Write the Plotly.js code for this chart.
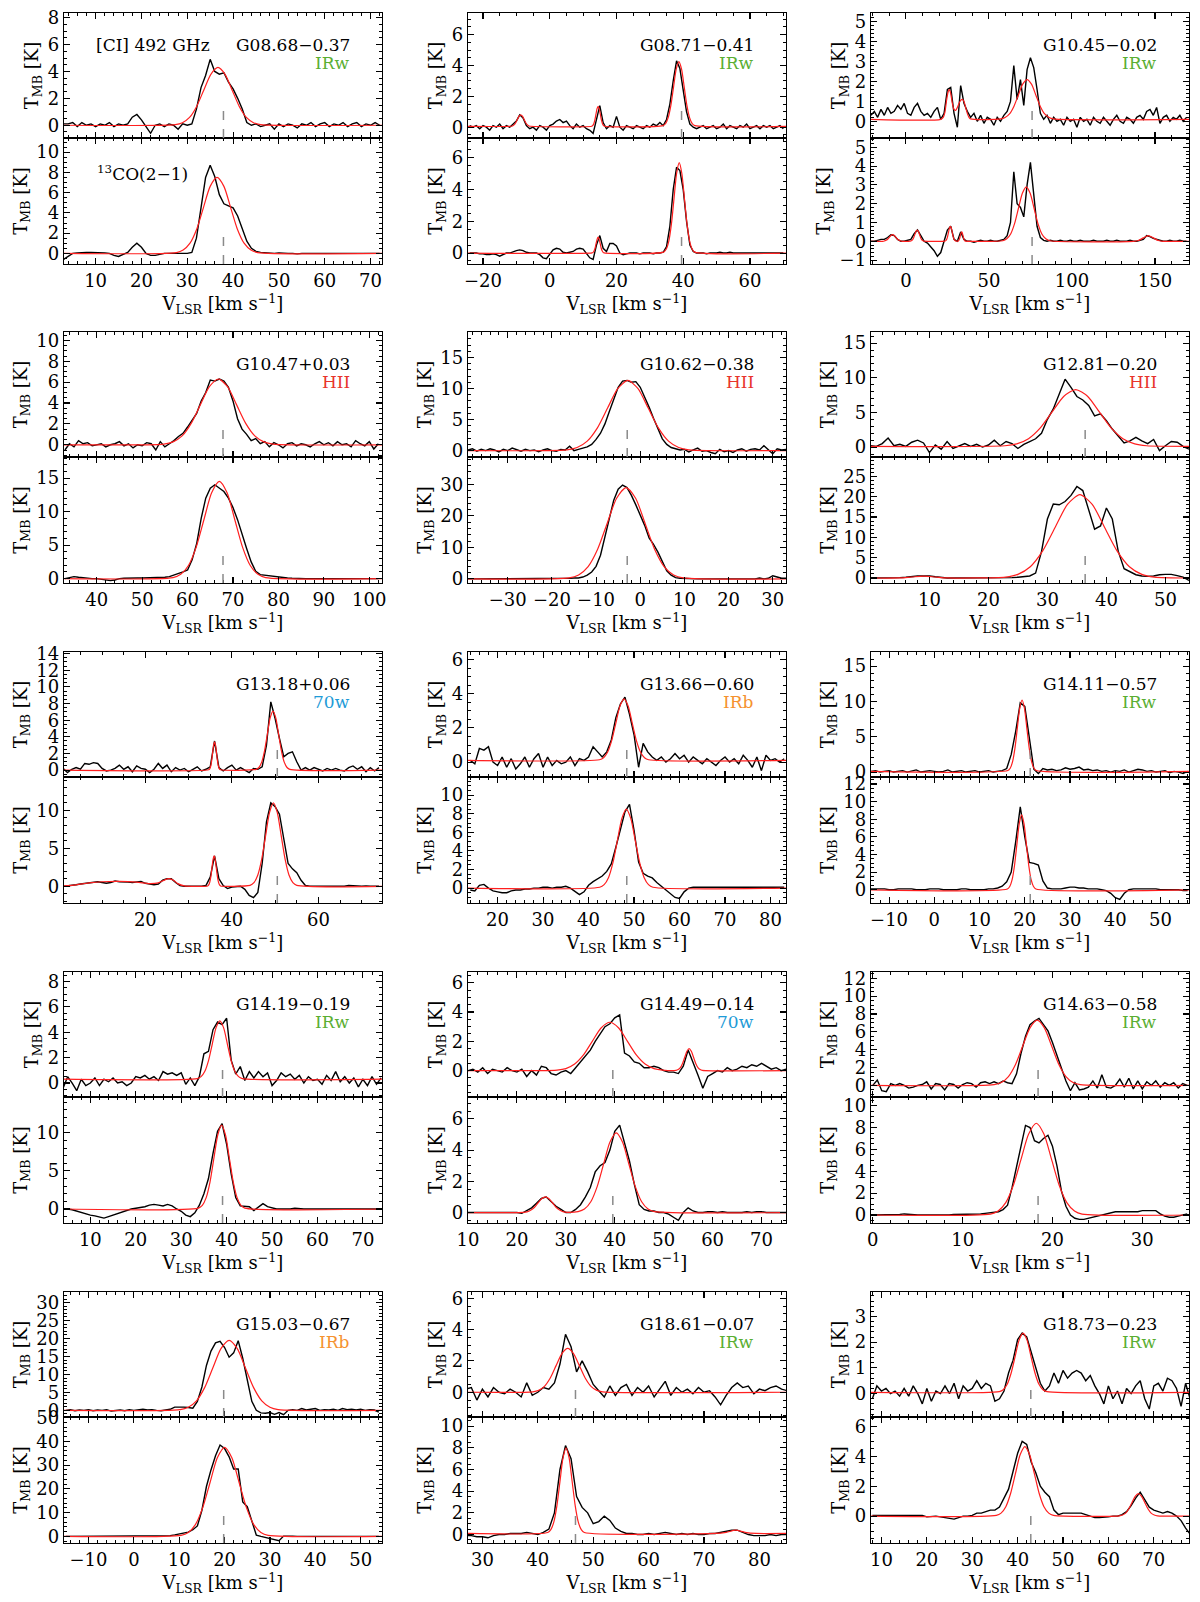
<!DOCTYPE html>
<html>
<head>
<meta charset="utf-8">
<script src="https://cdn.plot.ly/plotly-3.0.1.min.js"></script>
<style>
  body { margin: 0; background: #fff; }
  #chart { width: 1200px; height: 1602px; }
</style>
</head>
<body>
<div id="chart"></div>
<script>
// ---- sources ----
const sources = ['G08.68−0.37','G08.71−0.41','G10.45−0.02','G10.47+0.03','G10.62−0.38','G12.81−0.20',
  'G13.18+0.06','G13.66−0.60','G14.11−0.57','G14.19−0.19','G14.49−0.14','G14.63−0.58',
  'G15.03−0.67','G18.61−0.07','G18.73−0.23'];
const classes = ['IRw','IRw','IRw','HII','HII','HII','70w','IRb','IRw','IRw','70w','IRw','IRb','IRw','IRw'];
const vsys = [37.9, 39.5, 76.0, 67.8, -2.95, 36.4, 50.5, 48.4, 21.2, 39.1, 39.6, 18.4, 19.8, 46.8, 42.9];

// channel grid of each source: [first velocity, channel width] (km/s)
const grids = [[3,1],[-24,1],[-21,2],[33,1],[-39,1],[0,1],[1,1],[14,1],[-14,1],[4,1],[10,1],[0,0.5],[-15,1],[27,1],[8,1]];

// ---- [CI] 492 GHz spectra (K) ----
const ci_G0868 = [0.1,0.1,0.2,-0.1,0.2,0.0,0.1,-0.1,0.1,0.0, 0.2,-0.1,0.1,0.0,0.1,0.6,0.8,0.4,-0.1,-0.6,
  0.0,0.1,-0.1,0.1,0.0,-0.3,0.1,0.0,0.1,1.2, 2.8,3.7,4.9,4.0,3.8,3.9,3.2,2.7,2.0,1.2,
  0.2,0.0,0.1,-0.1,0.0,0.1,-0.3,0.1,-0.1,0.1, 0.0,-0.2,0.1,0.0,0.2,-0.1,0.1,0.2,-0.1,0.1,
  0.0,0.2,-0.1,0.1,0.2,-0.1,0.1,0.0,0.2,0.0];
const ci_G0871 = [0.1,0.0,0.1,-0.1,0.1,0.0,-0.2,0.1,0.0,0.2, -0.1,0.1,0.0,0.2,0.4,0.8,0.6,0.1,-0.1,0.0,
  -0.2,0.1,0.0,-0.2,0.1,0.2,0.4,0.5,0.3,0.4, 0.1,-0.1,0.2,0.0,0.1,-0.1,-0.2,-0.4,0.6,1.4,
  0.3,-0.1,0.1,0.0,0.7,0.0,-0.2,0.1,0.0,-0.1, 0.1,0.0,-0.1,0.1,0.0,0.2,0.1,0.3,0.1,0.5,
  1.5,3.0,4.3,3.8,2.5,1.0,0.2,0.0,-0.1,0.0, 0.1,-0.1,0.0,0.1,-0.1,0.0,0.2,-0.1,0.1,0.0,
  -0.1,0.1,0.0,0.2,-0.1,0.0,0.1,-0.1,0.1,0.0, 0.1,-0.1,0.0,0.1,-0.1];
const ci_G1045 = [0.3,0.5,0.2,0.6,0.3,0.7,0.4,0.5,0.8,0.6, 0.9,0.4,0.3,0.7,0.9,0.5,0.3,0.4,0.2,0.5,
  0.7,0.1,0.4,1.6,1.7,0.4,-0.3,1.8,0.9,0.5, 0.2,0.4,0.0,0.3,-0.1,0.2,0.1,-0.2,0.2,0.0,
  0.3,0.5,1.0,2.8,1.1,2.1,0.8,2.6,3.2,2.7, 1.6,0.4,0.1,0.3,-0.1,0.2,0.0,0.1,-0.2,0.2,
  0.0,0.1,-0.3,0.2,0.0,0.1,-0.2,0.2,0.0,-0.1, 0.2,0.0,-0.2,0.1,0.3,0.0,-0.1,0.2,0.1,-0.1,
  0.2,0.3,0.1,0.5,0.6,0.3,0.7,-0.1,0.2,0.3, 0.0,0.2,0.1,0.3,0.0,0.2];
const ci_G1047 = [-0.5,0.1,-0.2,0.4,0.1,0.2,-0.1,0.0,0.1,-0.2, 0.0,0.1,0.3,-0.1,0.1,-0.3,0.0,-0.1,0.2,0.1,
  -0.5,0.3,-0.2,0.1,0.4,0.8,1.1,1.7,2.3,3.0, 4.2,5.0,6.2,6.1,6.3,6.1,5.5,4.2,2.5,1.5,
  1.0,0.4,0.6,0.1,0.3,-0.2,0.2,0.0,-0.3,0.1, 0.2,-0.1,0.1,0.0,-0.2,0.1,0.3,0.0,0.2,-0.1,
  0.3,0.0,0.1,-0.2,0.4,0.1,-0.1,0.3,-0.4,0.1];
const ci_G1062 = [0.1,0.3,-0.1,0.2,0.0,0.3,0.1,-0.2,0.2,0.0, 0.4,0.1,-0.1,0.2,0.0,0.1,-0.2,0.1,0.3,0.0,
  -0.1,0.2,0.1,0.7,0.0,0.2,0.4,0.6,1.0,1.8, 2.8,4.3,6.3,8.4,10.2,11.2,11.3,11.0,11.1,10.2,
  8.7,7.0,5.2,3.4,1.9,1.0,0.5,0.3,0.1,0.2, -0.2,0.1,0.4,-0.1,0.0,-0.3,-0.5,0.2,-0.2,0.0,
  -0.3,0.1,0.3,-0.1,0.2,0.3,0.1,0.8,0.2,-0.5, 0.3,0.1,0.2];
const ci_G1281 = [0.2,0.1,0.5,1.3,0.2,0.4,0.1,0.7,1.0,0.6, -0.8,0.3,-0.3,0.8,-0.2,0.2,0.5,0.1,0.4,0.0,
  0.3,1.0,0.2,0.8,0.5,-0.2,0.4,0.8,1.2,2.0, 4.0,5.5,7.8,9.8,8.6,7.3,6.8,6.0,4.5,4.8,
  3.8,2.6,1.6,0.6,0.9,1.4,0.9,0.5,1.1,-0.5, 0.2,0.8,0.7,0.1,-0.3];
const ci_G1318 = [0.2,-0.3,0.1,0.3,0.1,0.8,0.7,0.9,0.8,0.2, -0.1,0.0,0.2,0.6,0.1,0.4,-0.2,0.5,0.2,0.1,
  -0.3,0.1,0.8,0.2,0.6,-0.2,0.3,0.0,0.2,-0.2, 0.1,0.4,-0.1,0.1,0.4,3.5,0.3,-0.1,0.3,0.6,
  0.0,0.3,0.0,-0.3,0.2,0.1,0.4,3.0,8.2,6.2, 3.8,1.6,2.0,2.2,1.0,0.0,0.3,0.0,0.3,0.1,
  -0.1,0.2,0.0,0.2,0.0,-0.1,0.3,0.5,0.1,0.4, -0.2,0.3,-0.1,0.3];
const ci_G1366 = [0.1,-0.1,0.8,0.7,0.9,0.0,-0.2,0.3,-0.3,0.2, -0.4,-0.1,0.3,-0.3,0.2,0.5,-0.3,0.3,-0.2,0.1,
  -0.1,0.0,0.3,-0.2,0.2,0.1,0.3,0.9,0.6,0.3, 0.6,1.3,2.6,3.4,3.8,2.8,1.6,-0.3,1.1,0.6,
  0.3,0.1,0.3,0.0,0.2,0.5,0.2,0.4,0.0,0.3, 0.1,-0.1,0.2,0.0,-0.2,0.1,0.3,0.0,0.2,-0.1,
  0.4,0.1,-0.3,0.3,-0.5,0.4,0.1,0.2,0.0,0.2];
const ci_G1411 = [0.1,0.2,0.0,0.1,0.2,0.0,0.1,0.2,0.0,0.1, 0.3,0.0,0.1,0.2,0.1,0.0,0.1,0.3,0.0,0.1,
  0.2,0.0,0.1,0.2,0.0,0.1,0.2,0.0,0.1,0.2, 0.5,2.5,5.8,9.8,9.3,5.0,0.4,-0.2,0.5,0.3,
  0.4,0.2,0.3,0.6,0.4,0.5,0.7,0.3,0.4,0.2, 0.3,0.1,0.2,0.0,0.2,0.1,0.3,0.0,0.2,0.4,
  0.3,0.1,0.2,0.0,0.1,0.2,-0.1,0.1,0.0,-0.2, 0.1];
const ci_G1419 = [-0.4,0.5,0.0,-0.6,0.3,-0.2,0.0,0.4,-0.2,0.3, 0.1,0.4,0.0,0.1,-0.2,0.0,0.5,0.4,0.6,0.3,
  0.5,0.2,0.9,0.7,0.8,0.6,0.8,-0.1,0.4,-0.2, 0.5,2.3,2.5,4.2,4.8,4.6,5.1,1.8,0.7,1.3,
  0.2,0.9,0.4,0.9,0.5,0.8,-0.2,0.2,0.8,0.5, 0.7,0.3,0.6,0.0,0.5,0.2,0.3,-0.1,0.6,0.2,
  0.9,0.1,0.5,0.0,0.4,-0.3,0.3,-0.2,0.5,-0.1, 0.4];
const ci_G1449 = [0.0,0.1,-0.1,0.2,-0.2,0.1,0.0,-0.1,0.2,0.0, -0.1,0.1,-0.4,0.0,-0.3,0.3,0.2,-0.2,-0.3,-0.1,
  0.0,-0.2,0.2,0.6,1.0,1.4,2.0,2.5,3.0,3.2, 3.6,3.8,1.2,1.0,0.6,0.5,0.2,0.2,0.3,0.2,
  0.0,-0.1,-0.1,-0.2,0.3,1.4,0.6,-0.3,-1.2,-0.4, -0.2,0.0,-0.1,0.2,0.0,0.1,0.3,0.2,0.4,0.3,
  0.5,0.3,0.1,0.2,0.0,0.1];
const ci_G1463 = [0.0,0.6,-0.6,-0.7,0.2,0.0,0.2,0.0,-0.3,-0.2, 0.0,0.1,0.4,-0.4,0.2,0.1,-0.5,0.2,0.1,-0.3,
  0.1,0.3,0.2,-0.2,0.3,0.4,0.2,0.4,0.2,0.5, 0.3,0.2,1.3,3.6,5.5,6.8,7.2,7.5,6.8,6.1,
  4.8,3.4,1.8,0.5,-0.6,0.3,-0.5,-0.4,-0.2,0.5, -0.3,1.2,-0.2,-0.3,0.0,0.7,-0.2,0.8,-0.4,0.5,
  -0.4,0.4,0.0,0.5,-0.2,0.3,0.0,0.3,-0.3,0.2, 0.0];
const ci_G1503 = [0.0,0.2,-0.1,0.1,0.0,0.2,-0.1,0.1,0.0,0.2, -0.2,0.0,0.1,-0.1,0.2,0.0,0.1,0.3,0.1,0.2,
  0.0,-0.1,0.1,0.3,0.9,1.0,0.9,0.8,0.6,2.5, 6.5,12.5,16.5,18.8,19.2,17.5,14.8,16.0,19.4,14.5,
  8.0,2.5,0.0,-0.7,-0.8,-0.6,-1.1,-0.6,-1.2,0.0, 0.2,0.0,0.5,0.1,0.3,0.5,0.0,0.2,0.1,0.3,
  0.0,0.5,0.2,0.3,0.1,0.3,0.0,0.2,0.1,-0.5];
const ci_G1861 = [0.2,0.3,-0.5,0.2,-0.3,0.3,0.0,-0.1,0.2,0.0, -0.3,0.6,-0.2,0.0,0.3,0.2,0.6,1.8,3.7,2.9,
  1.3,2.0,1.3,0.5,0.1,-0.3,0.4,-0.2,0.3,0.5, -0.2,0.3,0.0,0.4,-0.3,0.2,0.7,-0.2,0.3,0.0,
  0.2,-0.1,0.3,0.0,0.1,-0.3,-0.8,-0.2,0.3,0.6, 0.3,0.4,-0.1,0.2,0.1,0.3,0.4,0.2,0.1];
const ci_G1873 = [-0.2,0.3,0.1,0.2,0.0,0.1,-0.1,0.2,-0.1,0.3, 0.0,-0.4,0.2,-0.3,0.1,0.0,0.3,0.0,0.4,-0.2,
  0.3,0.1,0.2,0.5,0.2,0.4,0.3,-0.3,-0.2,0.1, 0.8,1.3,2.1,2.35,2.2,1.6,1.0,0.4,0.1,0.3,
  0.8,0.4,0.9,0.6,0.8,0.9,0.8,0.5,0.7,0.3, 0.0,-0.4,0.3,-0.2,0.1,-0.4,0.2,0.0,0.3,0.5,
  -0.2,-0.6,0.3,0.4,0.1,0.6,0.5,0.2,-0.5,0.4, -0.2];

// ---- 13CO(2-1) spectra (K) ----
const co_G0868 = [-0.6,-0.3,0.0,0.05,0.1,0.1,0.1,0.1,0.1,0.05, 0.0,-0.2,-0.3,-0.1,0.1,0.6,1.0,0.6,0.0,-0.2,
  -0.2,-0.1,0.0,0.0,0.0,0.0,0.0,0.0,0.1,1.5, 4.5,7.5,8.7,7.6,5.8,4.9,4.7,4.5,3.7,2.4,
  1.2,0.5,0.2,0.1,0.05,0.0,0.0,0.05,0.0,0.0, 0.0,-0.05,0.0,0.0,0.0,0.0,-0.05,0.0,0.0,0.0,
  0.0,0.0,0.0,0.0,0.0,0.0,0.0,0.0,0.0,0.0];
const co_G0871 = [0.0,0.0,0.0,-0.05,-0.05,-0.1,-0.1,-0.05,-0.1,-0.2, -0.1,0.0,0.0,0.1,0.15,0.2,0.15,0.05,0.0,0.0,
  0.0,-0.1,-0.3,-0.35,-0.1,0.2,0.3,0.25,0.05,0.0, 0.05,0.1,0.25,0.3,0.25,0.0,-0.3,-0.4,0.5,1.1,
  0.3,0.1,0.6,0.6,0.45,0.0,-0.1,-0.05,0.0,0.0, 0.0,-0.05,0.0,0.0,0.0,-0.05,0.0,0.0,0.05,0.4,
  1.7,4.0,5.4,5.2,4.0,2.0,0.5,0.1,0.0,0.0, 0.0,-0.05,0.0,0.0,0.0,0.05,0.0,0.0,0.05,0.0,
  0.0,0.0,0.0,0.0,0.0,0.0,0.0,0.0,0.0,0.0, 0.0,0.0,0.0,0.0,0.0];
const co_G1045 = [0.0,0.0,0.05,0.1,0.1,0.2,0.35,0.3,0.1,0.0, 0.0,0.05,0.1,0.4,0.6,0.3,0.0,-0.1,-0.3,-0.5,
  -0.8,-0.6,0.0,0.6,0.8,0.1,0.0,0.5,0.1,0.0, 0.0,-0.05,0.0,0.05,0.0,0.0,0.05,0.0,0.0,0.05,
  0.1,0.3,1.0,3.7,2.0,1.8,1.3,3.0,4.2,2.5, 0.8,0.2,0.05,0.0,0.05,0.0,0.0,0.05,0.0,0.0,
  0.05,0.0,0.0,0.05,0.0,0.0,0.0,0.05,0.0,0.0, 0.0,0.05,0.0,0.0,0.05,0.0,0.0,0.0,0.05,0.0,
  0.0,0.05,0.1,0.3,0.25,0.15,0.1,0.05,0.0,0.0, 0.05,0.0,0.0,0.05,0.0,0.0];
const co_G1047 = [0.0,0.2,0.3,0.2,0.1,0.0,0.0,0.0,-0.1,-0.2, -0.3,-0.2,0.0,0.05,0.1,0.1,0.1,0.1,0.1,0.15,
  0.2,0.2,0.2,0.3,0.5,0.8,1.0,1.3,2.8,5.2, 9.0,12.0,13.5,14.0,13.5,13.0,12.0,10.6,8.8,6.5,
  4.5,2.5,1.1,0.6,0.5,0.4,0.3,0.2,0.1,0.1, 0.05,0.0,0.0,0.0,0.0,0.0,0.0,0.0,0.0,0.0,
  0.0,0.0,0.0,0.0,0.0,0.0,0.0,0.05,0.05,0.0];
const co_G1062 = [0,0,0,0,0,0,0,0,0,0, 0,0,0,0,0,0,0,0,0,0.1,
  0.1,0.1,0.2,0.2,0.3,0.3,0.6,1.2,2.2,4.0, 7.5,13.5,19.5,25.0,28.5,29.8,29.0,26.5,23.5,20.5,
  17.0,13.0,11.0,8.5,5.5,2.6,1.2,0.4,0.2,0.1, 0.0,0.0,0.0,0.0,0.0,0.2,0.0,0.0,0.0,0.0,
  0.0,0.0,0.0,0.0,0.0,0.0,0.3,0.0,0.2,1.0, 0.6,0.2,0.2];
const co_G1281 = [0.0,0.0,0.0,0.05,0.1,0.1,0.2,0.4,0.5,0.5, 0.5,0.3,0.1,0,0,0,0,0,0,0,
  0,0,0.05,0.1,0.1,0.2,0.3,0.5,1.2,6.5, 14.5,18.2,18.0,18.8,20.3,22.5,21.5,17.0,12.0,12.8,
  17.2,14.5,6.6,2.3,1.5,0.8,0.5,0.4,0.5,0.8, 0.9,0.9,0.6,0.2,-0.6];
const co_G1318 = [0.0,0.05,0.1,0.2,0.3,0.4,0.5,0.6,0.6,0.5, 0.4,0.5,0.7,0.6,0.6,0.55,0.5,0.6,0.65,0.4,
  0.3,0.2,0.3,0.8,1.0,1.0,0.5,0.1,0.0,0.0, 0.0,0.0,0.0,0.1,1.2,4.0,1.0,0.1,-0.3,-0.1,
  0.0,0.0,-0.4,-1.2,-1.5,-0.8,3.0,8.5,11.0,10.5, 9.5,6.0,3.0,2.3,1.8,0.8,0.1,0.0,0.0,0.0,
  0.0,0.0,0.0,0.05,0.0,0.0,0.1,0.1,0.05,0.0, 0.05,0.0,0.0,0.0];
const co_G1366 = [-0.2,-0.3,0.3,0.4,0.0,-0.3,-0.4,-0.5,-0.5,-0.3, -0.2,-0.2,-0.1,-0.1,0.0,0.0,0.1,0.1,0.0,0.1,
  0.1,0.2,0.0,-0.4,-0.7,-0.4,0.3,0.7,1.0,1.3, 1.8,2.6,4.4,6.3,8.2,9.0,6.2,2.8,1.6,1.3,
  1.1,0.6,0.2,-0.2,-0.6,-1.0,-1.1,-0.4,0.0,0.1, 0.1,0.1,0.1,0.1,0.1,0.1,0.1,0.1,0.1,0.1,
  0.1,0.1,0.1,0.1,0.1,0.1,0.1,0.1,0.1,0.1];
const co_G1411 = [0.1,0.1,0.1,0.1,0.0,0.0,0.1,0.1,0.1,0.1, 0.0,0.0,0.0,0.1,0.1,0.1,0.0,0.0,0.0,0.0,
  0.1,0.1,0.0,0.0,0.0,0.0,0.1,0.1,0.2,0.4, 0.9,2.0,5.5,9.4,6.0,3.1,3.0,2.8,1.0,0.2,
  0.1,0.1,0.1,0.2,0.3,0.3,0.2,0.2,0.1,0.1, 0.1,0.0,-0.1,-0.4,-0.9,-1.1,-0.4,0.0,0.1,0.1,
  0.1,0.1,0.1,0.1,0.0,0.0,0.0,0.0,0.0,-0.1, -0.1];
const co_G1419 = [0.0,0.0,-0.1,-0.3,-0.5,-0.6,-0.8,-0.9,-1.0,-1.2, -1.0,-0.8,-0.5,-0.3,-0.2,0.0,0.1,0.2,0.3,0.5,
  0.6,0.5,0.4,0.6,0.4,0.0,-0.3,-0.8,-1.0,-0.5, 0.5,2.0,4.0,7.3,10.2,11.2,8.5,4.6,1.5,0.4,
  0.3,0.3,-0.2,0.3,0.7,0.3,0.1,0.0,0.0,0.0, 0.0,0.1,0.0,0.0,0.0,0.0,0.05,0.0,0.0,0.0,
  0.0,0.05,0.0,0.0,0.0,0.0,0.0,0.0,0.0,0.0, 0.0];
const co_G1449 = [0.0,0.0,0.0,0.0,0.0,0.0,0.0,0.0,0.0,0.0, 0.0,-0.05,0.1,0.3,0.6,0.9,1.0,0.7,0.4,0.2,
  0.0,0.0,0.2,0.5,1.0,1.6,2.6,3.0,3.2,4.0, 5.2,5.6,4.5,3.3,1.8,0.5,0.2,0.1,0.1,0.0,
  0.0,-0.1,-0.3,-0.5,0.0,0.3,0.1,0.0,0.0,0.05, 0.05,0.0,0.05,0.0,0.0,0.0,0.0,0.05,0.0,0.05,
  0.05,0.0,0.0,0.0,0.0,0.0];
const co_G1463 = [0.0,0.0,0.0,0.0,0.0,0.0,0.05,0.1,0.05,0.0, 0.0,0.0,0.0,-0.05,0.0,0.0,0.0,0.0,0.05,0.05,
  0.05,0.05,0.1,0.1,0.1,0.15,0.2,0.25,0.3,0.5, 0.9,2.5,4.5,6.5,8.2,8.0,6.8,6.6,7.0,7.3,
  6.3,4.5,2.2,0.8,0.0,-0.3,-0.4,-0.4,-0.3,-0.2, -0.1,0.0,0.1,0.2,0.3,0.3,0.3,0.3,0.3,0.3,
  0.4,0.4,0.4,0.4,0.1,-0.1,-0.2,-0.2,-0.1,0.0, 0.1];
const co_G1503 = [0,0,0,0,0,0,0,0,0,0, 0,0,0,0,0,0,0,0,0,0,
  0,0.1,0.2,0.3,0.6,1.0,1.5,1.8,2.8,4.4, 11.0,21.0,28.0,34.0,38.5,37.0,33.5,28.4,28.4,14.5,
  12.5,6.0,0.5,0.0,-0.5,-0.8,-1.2,-1.8,0.1,0.2, 0.1,0,0,0,0,0,0,0,0,0,
  0,0,0,0,0,0,0,0,0,0];
const co_G1861 = [-0.1,-0.1,-0.2,-0.2,-0.3,-0.1,0.0,0.0,0.1,0.1, 0.1,0.2,0.1,0.0,0.2,0.5,2.0,6.0,8.2,7.0,
  3.5,2.5,2.0,1.0,1.2,1.7,1.3,0.6,0.3,0.1, 0.1,0.0,0.0,0.1,0.0,0.1,0.2,0.1,0.0,0.1,
  0.0,0.1,0.0,0.0,0.1,0.1,0.2,0.3,0.4,0.4, 0.2,0.0,-0.1,-0.1,-0.1,0.0,-0.1,0.0,0.0];
const co_G1873 = [0.05,0.05,0.05,0.0,0.0,0.05,0.05,0.0,0.0,0.0, 0.0,0.05,-0.05,0.0,0.0,-0.05,-0.1,-0.2,-0.2,-0.1,
  0.0,0.0,0.05,0.2,0.2,0.3,0.4,0.4,0.6,1.2, 1.8,3.0,4.2,5.0,4.8,3.6,2.9,2.0,1.6,1.3,
  0.4,0.1,0.2,0.2,0.2,0.2,0.2,0.1,0.0,-0.1, -0.1,-0.1,-0.05,0.0,0.0,0.1,0.3,0.7,1.2,1.6,
  1.1,0.6,0.4,0.3,0.2,0.3,0.2,0.0,-0.3,-0.8, -1.2];

// ---- Gaussian fits: [velocity, T] ----
const fitCI_G0868 = [[3.1,0],[27.4,0.05],[28.95,0.19],[30.5,0.58],[32.05,1.4],[33.6,2.61],[35.15,3.79],[36.7,4.3],[38.25,3.79],[39.8,2.61],[41.35,1.4],[42.9,0.58],[44.45,0.19],[46,0.05],[72.5,0]];
const fitCO_G0868 = [[3.1,0],[27.65,0.08],[29.1,0.33],[30.6,1.01],[32.1,2.44],[33.55,4.55],[35,6.62],[36.5,7.5],[38,6.62],[39.45,4.55],[40.9,2.44],[42.4,1.01],[43.9,0.33],[45.35,0.08],[72.5,0]];
const fitCI_G0871 = [[-24.5,0.05],[-11.7,0.06],[-11.2,0.08],[-10.7,0.15],[-10.2,0.29],[-9.7,0.5],[-9.2,0.71],[-8.7,0.8],[-8.2,0.71],[-7.7,0.5],[-7.2,0.29],[-6.7,0.15],[-6.2,0.08],[-5.7,0.06],
  [12.55,0.06],[12.875,0.11],[13.2,0.23],[13.525,0.47],[13.85,0.84],[14.175,1.2],[14.5,1.35],[14.825,1.2],[15.15,0.84],[15.475,0.47],[15.8,0.23],[16.125,0.11],[16.45,0.06],
  [33.9,0.1],[34.7,0.23],[35.5,0.62],[36.3,1.41],[37.1,2.6],[37.9,3.76],[38.7,4.25],[39.5,3.76],[40.3,2.6],[41.1,1.41],[41.9,0.62],[42.7,0.23],[43.5,0.1],[70.8,0.05]];
const fitCO_G0871 = [[-24.5,0],[12.7,0.01],[13,0.04],[13.3,0.14],[13.6,0.32],[13.9,0.61],[14.2,0.88],[14.5,1],[14.8,0.88],[15.1,0.61],[15.4,0.32],[15.7,0.14],[16,0.04],[16.3,0.01],
  [34.15,0.06],[34.925,0.25],[35.7,0.77],[36.475,1.85],[37.25,3.46],[38.025,5.03],[38.8,5.7],[39.575,5.03],[40.35,3.46],[41.125,1.85],[41.9,0.77],[42.675,0.25],[43.45,0.06],[70.8,0]];
const fitCI_G1045 = [[-21,0.1],[21,0.1],[22.5,0.2],[23.5,0.45],[24.5,1.05],[25.5,1.5],[26.2,1.6],[27,1.4],[28,0.9],[29,0.6],[30,0.55],[31,0.7],[32,0.9],[33,1.05],[34,1.1],[35,1],[36,0.7],[37,0.4],[38,0.2],[39,0.12],
  [57.1,0.12],[59.75,0.19],[62.4,0.37],[65.05,0.75],[67.7,1.31],[70.35,1.87],[73,2.1],[75.65,1.87],[78.3,1.31],[80.95,0.75],[83.6,0.37],[86.25,0.19],[88.9,0.12],[170.5,0.1]];
const fitCO_G1045 = [[-21,0],[-14,0],[-13,0.015],[-12,0.05],[-11,0.11],[-10,0.21],[-9,0.31],[-8,0.35],[-7,0.31],[-6,0.21],[-5,0.11],[-4,0.05],[-3,0.015],[-2,0],
  [2.6,0.01],[3.3,0.03],[4,0.08],[4.7,0.19],[5.4,0.36],[6.1,0.53],[6.8,0.6],[7.5,0.53],[8.2,0.36],[8.9,0.19],[9.6,0.08],[10.3,0.03],[11,0.01],
  [23.5,0.01],[24.05,0.035],[24.6,0.11],[25.15,0.26],[25.7,0.49],[26.25,0.71],[26.8,0.8],[27.35,0.71],[27.9,0.49],[28.45,0.26],[29,0.11],[29.55,0.035],[30.1,0.01],
  [31.2,0.01],[31.6,0.02],[32,0.07],[32.4,0.16],[32.8,0.3],[33.2,0.44],[33.6,0.5],[34,0.44],[34.4,0.3],[34.8,0.16],[35.2,0.07],[35.6,0.02],[36,0.01],
  [58.4,0.03],[60.75,0.13],[63.1,0.39],[65.45,0.94],[67.8,1.76],[70.15,2.56],[72.5,2.9],[74.85,2.56],[77.2,1.76],[79.55,0.94],[81.9,0.39],[84.25,0.13],[86.6,0.03],
  [137,0],[140,0.04],[143,0.18],[146,0.3],[149,0.18],[152,0.04],[155,0],[170.5,0]];
const fitCI_G1047 = [[32.8,0],[54.8,0.07],[56.8,0.28],[58.8,0.85],[60.8,2.05],[62.8,3.82],[64.8,5.56],[66.8,6.3],[68.8,5.56],[70.8,3.82],[72.8,2.05],[74.8,0.85],[76.8,0.28],[78.8,0.07],[102.8,0]];
const fitCO_G1047 = [[32.8,0],[56.8,0.16],[58.5,0.64],[60.2,1.96],[61.9,4.71],[63.6,8.79],[65.3,12.8],[67,14.5],[68.7,12.8],[70.4,8.79],[72.1,4.71],[73.8,1.96],[75.5,0.64],[77.2,0.16],[102.8,0]];
const fitCI_G1062 = [[-39,0],[-16.6,0.13],[-14.3,0.5],[-12,1.53],[-9.7,3.67],[-7.4,6.85],[-5.1,9.97],[-2.8,11.3],[-0.5,9.97],[1.8,6.85],[4.1,3.67],[6.4,1.53],[8.7,0.5],[11,0.13],[33,0]];
const fitCO_G1062 = [[-39,0],[-16.1,0.32],[-13.95,1.27],[-11.8,3.92],[-9.65,9.42],[-7.5,17.6],[-5.35,25.6],[-3.2,29],[-1.05,25.6],[1.1,17.6],[3.25,9.42],[5.4,3.92],[7.55,1.27],[9.7,0.32],[33,0]];
const fitCI_G1281 = [[0.1,0.1],[22.8,0.19],[24.8,0.46],[26.8,1.21],[28.8,2.76],[30.8,5.07],[32.8,7.34],[34.8,8.3],[36.8,7.34],[38.8,5.07],[40.8,2.76],[42.8,1.21],[44.8,0.46],[46.8,0.19],[54,0.1]];
const fitCO_G1281 = [[0.1,0],[5,0.02],[7,0.25],[9,0.45],[11,0.25],[13,0.02],[22.9,0.23],[25,0.9],[27.1,2.77],[29.2,6.66],[31.3,12.4],[33.4,18.1],[35.5,20.5],[37.6,18.1],[39.7,12.4],[41.8,6.66],[43.9,2.77],[46,0.9],[48.1,0.23],[54,0]];
const fitCI_G1318 = [[1.2,0],[34.65,0.04],[34.875,0.15],[35.1,0.46],[35.325,1.1],[35.55,2.06],[35.775,3],[36,3.4],[36.225,3],[36.45,2.06],[36.675,1.1],[36.9,0.46],[37.125,0.15],[37.35,0.04],
  [45.6,0.08],[46.25,0.31],[46.9,0.96],[47.55,2.31],[48.2,4.31],[48.85,6.27],[49.5,7.1],[50.15,6.27],[50.8,4.31],[51.45,2.31],[52.1,0.96],[52.75,0.31],[53.4,0.08],[74.7,0]];
const fitCO_G1318 = [[1.2,0.05],[4,0.2],[7,0.45],[10,0.6],[14,0.65],[18,0.55],[21,0.35],[23,0.45],[24.5,0.85],[25.5,1],[26.5,0.8],[27.5,0.35],[29,0.05],[31,0],
  [34.4,0.04],[34.65,0.18],[34.9,0.54],[35.15,1.3],[35.4,2.43],[35.65,3.53],[35.9,4],[36.15,3.53],[36.4,2.43],[36.65,1.3],[36.9,0.54],[37.15,0.18],[37.4,0.04],[40,0],
  [44.2,0.12],[45.1,0.48],[46,1.49],[46.9,3.57],[47.8,6.67],[48.7,9.71],[49.6,11],[50.5,9.71],[51.4,6.67],[52.3,3.57],[53.2,1.49],[54.1,0.48],[55,0.12],[74.7,0]];
const fitCI_G1366 = [[13.5,0.1],[42.4,0.14],[43.3,0.26],[44.2,0.59],[45.1,1.27],[46,2.28],[46.9,3.28],[47.8,3.7],[48.7,3.28],[49.6,2.28],[50.5,1.27],[51.4,0.59],[52.3,0.26],[53.2,0.14],[83.4,0.1]];
const fitCO_G1366 = [[13.5,0],[42.45,0.09],[43.425,0.37],[44.4,1.15],[45.375,2.76],[46.35,5.16],[47.325,7.5],[48.3,8.5],[49.275,7.5],[50.25,5.16],[51.225,2.76],[52.2,1.15],[53.175,0.37],[54.15,0.09],[83.4,0]];
const fitCI_G1411 = [[-14,0.1],[16.25,0.21],[16.775,0.54],[17.3,1.47],[17.825,3.38],[18.35,6.23],[18.875,9.01],[19.4,10.2],[19.925,9.01],[20.45,6.23],[20.975,3.38],[21.5,1.47],[22.025,0.54],[22.55,0.21],[56.3,0.1]];
const fitCO_G1411 = [[-14,0],[16.15,0.09],[16.675,0.37],[17.2,1.15],[17.725,2.76],[18.25,5.16],[18.775,7.5],[19.3,8.5],[19.825,7.5],[20.35,5.16],[20.875,2.76],[21.4,1.15],[21.925,0.37],[22.45,0.09],[56.3,0]];
const fitCI_G1419 = [[4.2,0.3],[33.55,0.35],[34.375,0.5],[35.2,0.92],[36.025,1.79],[36.85,3.09],[37.675,4.36],[38.5,4.9],[39.325,4.36],[40.15,3.09],[40.975,1.79],[41.8,0.92],[42.625,0.5],[43.45,0.35],[74.2,0.3]];
const fitCO_G1419 = [[4.2,0],[33.8,0.12],[34.65,0.48],[35.5,1.49],[36.35,3.57],[37.2,6.67],[38.05,9.71],[38.9,11],[39.75,9.71],[40.6,6.67],[41.45,3.57],[42.3,1.49],[43.15,0.48],[44,0.12],[74.2,0]];
const fitCI_G1449 = [[10,0],[28.2,0.04],[30,0.14],[31.8,0.45],[33.6,1.07],[35.4,2],[37.2,2.91],[39,3.3],[40.8,2.91],[42.6,2],[44.4,1.07],[46.2,0.45],[48,0.14],[49.8,0.04],
  [52.5,0.02],[52.95,0.07],[53.4,0.2],[53.85,0.49],[54.3,0.91],[54.75,1.32],[55.2,1.5],[55.65,1.32],[56.1,0.91],[56.55,0.49],[57,0.2],[57.45,0.07],[57.9,0.02],[75,0]];
const fitCO_G1449 = [[10,0],[21.3,0.01],[22.05,0.04],[22.8,0.14],[23.55,0.32],[24.3,0.61],[25.05,0.88],[25.8,1],[26.55,0.88],[27.3,0.61],[28.05,0.32],[28.8,0.14],[29.55,0.04],[30.3,0.01],
  [32.5,0.06],[33.8,0.22],[35.1,0.69],[36.4,1.66],[37.7,3.09],[39,4.5],[40.3,5.1],[41.6,4.5],[42.9,3.09],[44.2,1.66],[45.5,0.69],[46.8,0.22],[48.1,0.06],[75,0]];
const fitCI_G1463 = [[-0.2,0],[13.5,0.08],[14.3,0.32],[15.1,0.99],[15.9,2.37],[16.7,4.43],[17.5,6.44],[18.3,7.3],[19.1,6.44],[19.9,4.43],[20.7,2.37],[21.5,0.99],[22.3,0.32],[23.1,0.08],[35.2,0]];
const fitCO_G1463 = [[-0.2,0],[13.1,0.09],[13.95,0.37],[14.8,1.14],[15.65,2.73],[16.5,5.09],[17.35,7.41],[18.2,8.4],[19.05,7.41],[19.9,5.09],[20.75,2.73],[21.6,1.14],[22.45,0.37],[23.3,0.09],[35.2,0]];
const fitCI_G1503 = [[-15.4,0],[10.2,0.22],[12,0.86],[13.8,2.64],[15.6,6.33],[17.4,11.8],[19.2,17.2],[21,19.5],[22.8,17.2],[24.6,11.8],[26.4,6.33],[28.2,2.64],[30,0.86],[31.8,0.22],[54.7,0]];
const fitCO_G1503 = [[-15.4,0],[10.4,0.42],[12,1.65],[13.6,5.07],[15.2,12.2],[16.8,22.7],[18.4,33.1],[20,37.5],[21.6,33.1],[23.2,22.7],[24.8,12.2],[26.4,5.07],[28,1.65],[29.6,0.42],[54.7,0]];
const fitCI_G1861 = [[27.4,0],[39.1,0.03],[40.15,0.12],[41.2,0.38],[42.25,0.91],[43.3,1.7],[44.35,2.47],[45.4,2.8],[46.45,2.47],[47.5,1.7],[48.55,0.91],[49.6,0.38],[50.65,0.12],[51.7,0.03],[84.8,0]];
const fitCO_G1861 = [[27.4,0.1],[41.8,0.19],[42.35,0.45],[42.9,1.17],[43.45,2.67],[44,4.89],[44.55,7.07],[45.1,8],[45.65,7.07],[46.2,4.89],[46.75,2.67],[47.3,1.17],[47.85,0.45],[48.4,0.19],
  [72,0.1],[74,0.2],[75.7,0.4],[77.4,0.2],[79.4,0.1],[84.8,0.1]];
const fitCI_G1873 = [[7.7,0.05],[35.95,0.08],[36.825,0.15],[37.7,0.36],[38.575,0.8],[39.45,1.44],[40.325,2.08],[41.2,2.35],[42.075,2.08],[42.95,1.44],[43.825,0.8],[44.7,0.36],[45.575,0.15],[46.45,0.08],[77.75,0.05]];
const fitCO_G1873 = [[7.7,0],[35.3,0.05],[36.35,0.2],[37.4,0.63],[38.45,1.51],[39.5,2.82],[40.55,4.1],[41.6,4.65],[42.65,4.1],[43.7,2.82],[44.75,1.51],[45.8,0.63],[46.85,0.2],[47.9,0.05],
  [62.4,0.02],[63.1,0.07],[63.8,0.2],[64.5,0.49],[65.2,0.91],[65.9,1.32],[66.6,1.5],[67.3,1.32],[68,0.91],[68.7,0.49],[69.4,0.2],[70.1,0.07],[70.8,0.02],[77.75,0]];

const ciSpectra = [ci_G0868,ci_G0871,ci_G1045,ci_G1047,ci_G1062,ci_G1281,ci_G1318,ci_G1366,ci_G1411,ci_G1419,ci_G1449,ci_G1463,ci_G1503,ci_G1861,ci_G1873];
const coSpectra = [co_G0868,co_G0871,co_G1045,co_G1047,co_G1062,co_G1281,co_G1318,co_G1366,co_G1411,co_G1419,co_G1449,co_G1463,co_G1503,co_G1861,co_G1873];
const ciFits = [fitCI_G0868,fitCI_G0871,fitCI_G1045,fitCI_G1047,fitCI_G1062,fitCI_G1281,fitCI_G1318,fitCI_G1366,fitCI_G1411,fitCI_G1419,fitCI_G1449,fitCI_G1463,fitCI_G1503,fitCI_G1861,fitCI_G1873];
const coFits = [fitCO_G0868,fitCO_G0871,fitCO_G1045,fitCO_G1047,fitCO_G1062,fitCO_G1281,fitCO_G1318,fitCO_G1366,fitCO_G1411,fitCO_G1419,fitCO_G1449,fitCO_G1463,fitCO_G1503,fitCO_G1861,fitCO_G1873];

// ---- axes of every panel (ranges + major tick step) ----
const panelAxes = [
  {xr:[3.1,72.5],   xdt:10, ty:[-0.95,8.35], tdt:2, by:[-1.05,11.4], bdt:2},
  {xr:[-24.5,70.8], xdt:20, ty:[-0.7,7.4],   tdt:2, by:[-0.69,7.25], bdt:2},
  {xr:[-21,170.5],  xdt:50, ty:[-0.84,5.45], tdt:1, by:[-1.21,5.5],  bdt:1},
  {xr:[32.8,102.8], xdt:10, ty:[-1.17,10.8], tdt:2, by:[-0.65,18.15],bdt:5},
  {xr:[-39,33],     xdt:10, ty:[-1.03,19.1], tdt:5, by:[-1.3,38.7],  bdt:10},
  {xr:[0.1,54],     xdt:10, ty:[-1.43,16.6], tdt:5, by:[-1.23,29.75],bdt:5},
  {xr:[1.2,74.7],   xdt:20, ty:[-0.83,14.2], tdt:2, by:[-2.2,14.4],  bdt:5},
  {xr:[13.5,83.4],  xdt:10, ty:[-0.87,6.44], tdt:2, by:[-1.6,11.95], bdt:2},
  {xr:[-14,56.3],   xdt:10, ty:[-0.7,17.0],  tdt:5, by:[-1.5,12.8],  bdt:2},
  {xr:[4.2,74.2],   xdt:10, ty:[-1.1,8.74],  tdt:2, by:[-1.84,14.7], bdt:5},
  {xr:[10,75],      xdt:10, ty:[-1.8,6.73],  tdt:2, by:[-0.67,7.4],  bdt:2},
  {xr:[-0.2,35.2],  xdt:10, ty:[-1.3,12.7],  tdt:2, by:[-0.73,10.8], bdt:2},
  {xr:[-15.4,54.7], xdt:10, ty:[-1.85,32.95],tdt:5, by:[-2.8,50.3],  bdt:10},
  {xr:[27.4,84.8],  xdt:10, ty:[-1.58,6.4],  tdt:2, by:[-0.78,10.84],bdt:2},
  {xr:[7.7,77.75],  xdt:10, ty:[-0.91,3.95], tdt:1, by:[-1.8,6.63],  bdt:2}
];

const W = 1200, H = 1602;
const colLeft = [64, 468, 871], boxW = 318;
const rowTop = [13, 332, 652, 972, 1292], hTop = 125, hBot = 126;
const FONT = 'DejaVu Serif, serif';
const classColor = {IRw:'#5aae32', HII:'#e8342b', '70w':'#1e9bd7', IRb:'#f5922f'};
const minorOf = {1:0.2, 2:0.5, 5:1, 10:2, 20:5, 50:10};

function chan(g, n) {
  return Array.from({length: n}, (_, i) => +(g[0] + i * g[1]).toFixed(2));
}

function axis(range, dtick, domain, extra) {
  return Object.assign({
    domain: domain, range: range, dtick: dtick, tick0: 0,
    ticks: 'inside', ticklen: 6, tickwidth: 1.1, tickcolor: '#000',
    minor: {ticks: 'inside', ticklen: 3, dtick: minorOf[dtick], tickcolor: '#000', tickwidth: 1},
    showline: true, linecolor: '#000', linewidth: 1.3, mirror: 'ticks',
    showgrid: false, zeroline: false,
    tickfont: {family: FONT, size: 18, color: '#000'}
  }, extra);
}

const traces = [];
const layout = {
  width: W, height: H, margin: {l: 0, r: 0, t: 0, b: 0},
  showlegend: false, paper_bgcolor: '#fff', plot_bgcolor: 'rgba(0,0,0,0)',
  font: {family: FONT, color: '#000'},
  annotations: [], shapes: []
};

sources.forEach((name, p) => {
  const col = p % 3, row = Math.floor(p / 3), ax = panelAxes[p];
  const xd = [colLeft[col] / W, (colLeft[col] + boxW) / W];
  const yT = [1 - (rowTop[row] + hTop) / H, 1 - rowTop[row] / H];
  const yB = [1 - (rowTop[row] + hTop + hBot) / H, 1 - (rowTop[row] + hTop) / H];
  const parts = [
    {spec: ciSpectra[p], fit: ciFits[p], yr: ax.ty, ydt: ax.tdt, yd: yT, bottom: false},
    {spec: coSpectra[p], fit: coFits[p], yr: ax.by, ydt: ax.bdt, yd: yB, bottom: true}
  ];
  parts.forEach((pt, j) => {
    const k = 2 * p + j + 1, s = k === 1 ? '' : String(k);
    const xa = 'x' + s, ya = 'y' + s;
    traces.push({x: chan(grids[p], pt.spec.length), y: pt.spec, xaxis: xa, yaxis: ya,
      type: 'scatter', mode: 'lines', line: {color: '#000', width: 1.4}, hoverinfo: 'skip'});
    traces.push({x: pt.fit.map(d => d[0]), y: pt.fit.map(d => d[1]), xaxis: xa, yaxis: ya,
      type: 'scatter', mode: 'lines', line: {color: '#ff1f1f', width: 1.2, shape: 'spline', smoothing: 0.7}, hoverinfo: 'skip'});
    const xExtra = {anchor: ya, showticklabels: pt.bottom};
    if (pt.bottom) xExtra.title = {text: 'V<sub>LSR</sub> [km s<sup>−1</sup>]', font: {family: FONT, size: 18}, standoff: 4};
    layout['xaxis' + s] = axis(ax.xr, ax.xdt, xd, xExtra);
    layout['yaxis' + s] = axis(pt.yr, pt.ydt, pt.yd,
      {anchor: xa, title: {text: 'T<sub>MB</sub> [K]', font: {family: FONT, size: 18}, standoff: 4}});
    layout.shapes.push({type: 'line', xref: xa, yref: ya + ' domain', x0: vsys[p], x1: vsys[p], y0: 0, y1: 0.23,
      line: {color: '#8a8a8a', width: 1.5, dash: 'dash'}});
  });
  const kt = 2 * p + 1, st = kt === 1 ? '' : String(kt);
  layout.annotations.push({xref: 'x' + st + ' domain', yref: 'y' + st + ' domain', x: 0.905, y: 0.747,
    xanchor: 'right', yanchor: 'middle', showarrow: false, text: name, font: {family: FONT, size: 17, color: '#000'}});
  layout.annotations.push({xref: 'x' + st + ' domain', yref: 'y' + st + ' domain', x: 0.905, y: 0.60,
    xanchor: 'right', yanchor: 'middle', showarrow: false, text: classes[p], font: {family: FONT, size: 17, color: classColor[classes[p]]}});
});

layout.annotations.push({xref: 'x domain', yref: 'y domain', x: 0.093, y: 0.747, xanchor: 'left', yanchor: 'middle',
  showarrow: false, text: '[CI] 492 GHz', font: {family: FONT, size: 17, color: '#000'}});
layout.annotations.push({xref: 'x2 domain', yref: 'y2 domain', x: 0.096, y: 0.724, xanchor: 'left', yanchor: 'middle',
  showarrow: false, text: '<sup>13</sup>CO(2−1)', font: {family: FONT, size: 17, color: '#000'}});

Plotly.newPlot('chart', traces, layout, {displayModeBar: false, staticPlot: true});
</script>
</body>
</html>
